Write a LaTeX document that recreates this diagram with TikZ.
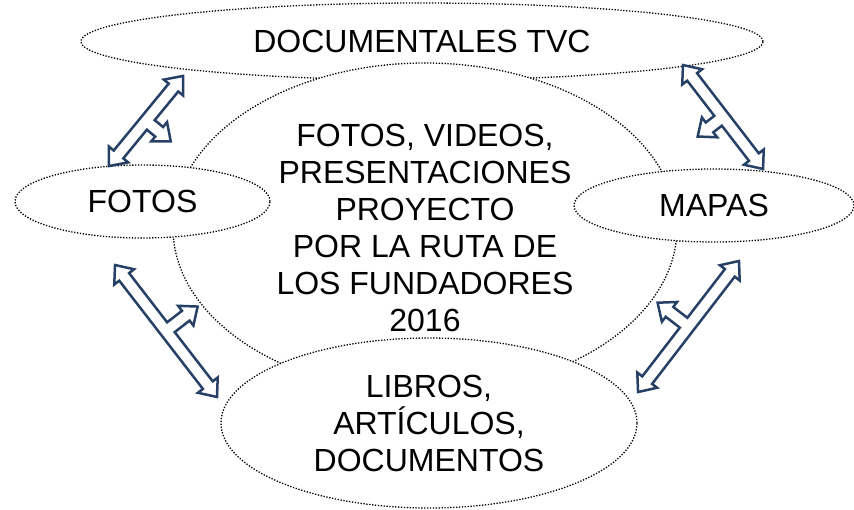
\documentclass[tikz,border=0pt]{standalone}
\usepackage{fontspec}
\setmainfont{Liberation Sans}
\definecolor{arrowblue}{RGB}{38, 64, 102}
\usetikzlibrary{shapes.geometric}

\tikzset{
  bubble/.style={ellipse, draw, fill=white, line width=1.3pt, dash pattern=on 1.3pt off 1.6pt, inner sep=0pt, align=center, font=\fontsize{32}{37}\selectfont},
  arrowline/.style={draw=arrowblue, fill=white, line width=2.5pt},
  pics/triarrow/.style 2 args={code={
    \path[arrowline] (-#1,0) -- (-#1+15,-12.5) -- (-#1+15,-6.2) -- (#1-15,-6.2) -- (#1-15,-12.5) -- (#1,0)
      -- (#1-15,12.5) -- (#1-15,6.2) -- (6.2,6.2) -- (6.2,#2-15) -- (12.5,#2-15) -- (0,#2)
      -- (-12.5,#2-15) -- (-6.2,#2-15) -- (-6.2,6.2) -- (-#1+15,6.2) -- (-#1+15,12.5) -- cycle;
  }}
}

\begin{document}
\begin{tikzpicture}[x=1pt, y=1pt]
        \useasboundingbox (0,0) rectangle (854,-509);
        \node [bubble, minimum width=682pt, minimum height=77pt] (tvc) at (422,-41.5) {DOCUMENTALES TVC};
        \node [bubble, minimum width=504pt, minimum height=330pt] (centro) at (425,-228) {FOTOS, VIDEOS,\\PRESENTACIONES\\PROYECTO\\POR LA RUTA DE\\LOS FUNDADORES\\2016};
        \node [bubble, minimum width=255pt, minimum height=73pt] (fotos) at (142.5,-201.5) {FOTOS};
        \node [bubble, minimum width=280pt, minimum height=73pt] (mapas) at (714,-205.5) {MAPAS};
        \node [bubble, minimum width=416pt, minimum height=170pt] (libros) at (429,-423) {LIBROS,\\ARTÍCULOS,\\DOCUMENTOS};

        \pic [rotate=-129.4] at (146,-121) {triarrow={58.3}{32}};
        \pic [rotate=127.6] at (723,-117) {triarrow={65.6}{32}};
        \pic [rotate=-52.3] at (166,-331) {triarrow={83.4}{40}};
        \pic [rotate=52.4] at (688.5,-326.5) {triarrow={82.7}{39}};
    \end{tikzpicture}
\end{document}
